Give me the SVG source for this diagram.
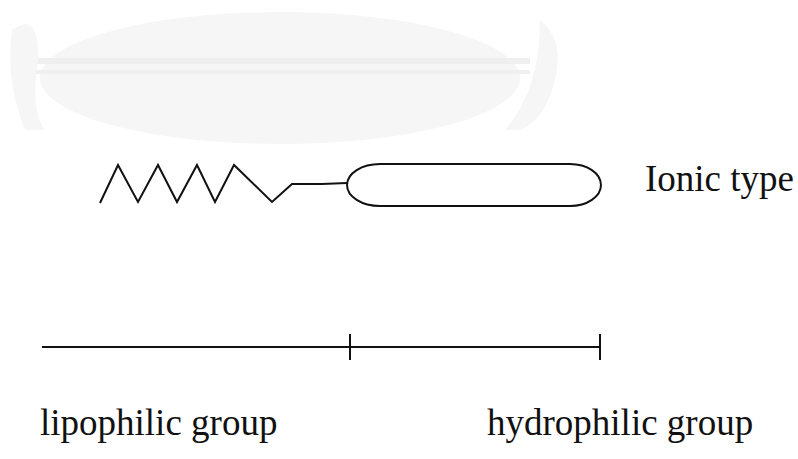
<svg xmlns="http://www.w3.org/2000/svg" width="798" height="459" viewBox="0 0 798 459">
<style>
.ln{fill:none;stroke:#111;stroke-width:2;stroke-linejoin:miter;stroke-linecap:butt}
.t{font-family:"Liberation Serif","Times New Roman",serif;font-size:37px;fill:#111}
.wm{fill:#f6f6f6;stroke:none}
</style>
<rect width="798" height="459" fill="#fff"/>
<g id="watermark">
<ellipse class="wm" cx="280" cy="78" rx="240" ry="66"/>
<rect x="35" y="58" width="495" height="6" fill="#efefef"/>
<rect x="35" y="70" width="495" height="4" fill="#f0f0f0"/>
<path class="wm" d="M12 30 Q40 10 38 60 Q30 110 45 130 L25 130 Q5 80 12 30Z"/>
<path class="wm" d="M540 20 Q565 40 555 80 Q545 120 520 130 L505 130 Q540 90 540 20Z"/>
</g>
<g id="tail">
<polyline class="ln" points="100,203 118,165 138,202 158,165 177,202 197,165 215,202 234,165 272,202 292,184 322,184 347,183"/>
</g>
<g id="head">
<path class="ln" d="M380,164 L570,164 A31,21 0 0 1 570,206 L380,206 A33,21 0 0 1 380,164 Z"/>
</g>
<g id="label-ionic">
<text class="t" x="645" y="191">Ionic type</text>
</g>
<g id="connectors">
<line class="ln" x1="42" y1="347" x2="600" y2="347"/>
<line class="ln" x1="350" y1="334" x2="350" y2="360"/>
<line class="ln" x1="600" y1="334" x2="600" y2="360"/>
</g>
<g id="label-lipo">
<text class="t" x="40" y="435">lipophilic group</text>
</g>
<g id="label-hydro">
<text class="t" x="487" y="435">hydrophilic group</text>
</g>
</svg>
